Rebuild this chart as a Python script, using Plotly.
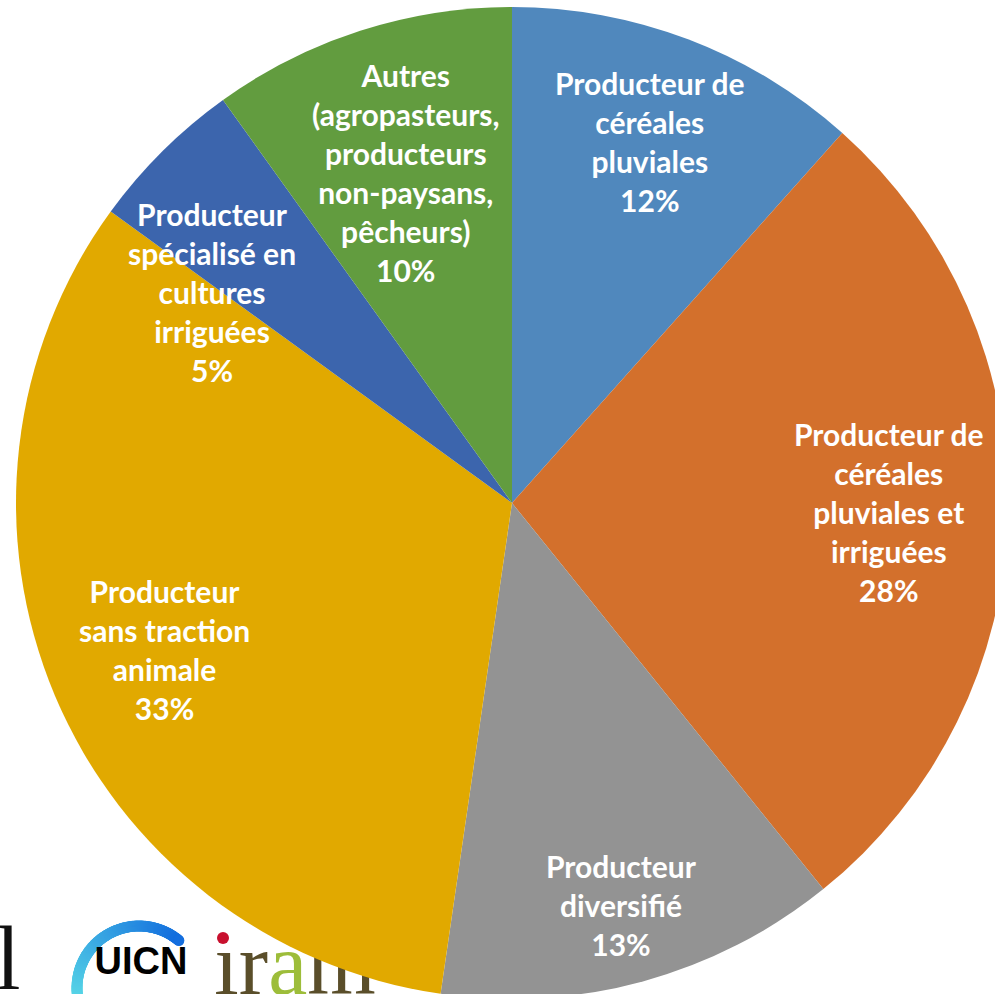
import math
import plotly.graph_objects as go

# ---------------- data ----------------
categories = [
    "Producteur de<br>céréales<br>pluviales",
    "Producteur de<br>céréales<br>pluviales et<br>irriguées",
    "Producteur<br>diversifié",
    "Producteur<br>sans traction<br>animale",
    "Producteur<br>spécialisé en<br>cultures<br>irriguées",
    "Autres<br>(agropasteurs,<br>producteurs<br>non-paysans,<br>pêcheurs)",
]
values = [11.6, 27.6, 13.1, 32.7, 5.1, 9.9]
percent_labels = ["12%", "28%", "13%", "33%", "5%", "10%"]
colors = ["#5088BD", "#D3702C", "#939393", "#E1A900", "#3C65AD", "#629C3F"]

# label placement style (fraction of radius, angular nudge in degrees)
label_r = [0.78, 0.76, 0.84, 0.76, 0.74, 0.70]
label_nudge = [0, 0, 0, 0, -10, 0]

# ---------------- geometry ----------------
W, H = 1012, 1002
CX, CY, R = 512, 503, 496

dom_x = [(CX - R) / W, (CX + R) / W]
dom_y = [1 - (CY + R) / H, 1 - (CY - R) / H]

fig = go.Figure()

# decorative logos drawn beneath the pie (cartesian layer)
fig.add_trace(go.Scatter(
    x=[8], y=[966], mode="text", text=["l"],
    textfont=dict(family="Liberation Serif", size=90, color="#111111"),
    hoverinfo="skip", showlegend=False))

# UICN ring (gradient arc built from dense markers)
n_arc = 160
arc_x, arc_y, arc_c = [], [], []
for i in range(n_arc):
    t = i / (n_arc - 1)
    ang = math.radians(200 - t * 150)
    arc_x.append(139 + 62 * math.cos(ang))
    arc_y.append(988 - 62 * math.sin(ang))
    arc_c.append("rgb({},{},{})".format(int(95 - 75 * t), int(225 - 115 * t), int(232 - 10 * t)))
fig.add_trace(go.Scatter(
    x=arc_x, y=arc_y, mode="markers",
    marker=dict(size=11, color=arc_c, line=dict(width=0)),
    hoverinfo="skip", showlegend=False))

fig.add_trace(go.Scatter(
    x=[141], y=[964], mode="text", text=["<b>UICN</b>"],
    textfont=dict(family="Liberation Sans", size=38, color="#000000"),
    hoverinfo="skip", showlegend=False))
fig.add_trace(go.Scatter(
    x=[295], y=[1016], mode="text", textposition="top center",
    text=["<span style='color:#5A4E2A'>ır</span><span style='color:#9DBD3A'>a</span><span style='color:#5A4E2A'>m</span>"],
    textfont=dict(family="Liberation Serif", size=88, color="#5A4E2A"),
    hoverinfo="skip", showlegend=False))
fig.add_trace(go.Scatter(
    x=[223], y=[938], mode="markers",
    marker=dict(size=12, color="#C8102E", line=dict(width=0)),
    hoverinfo="skip", showlegend=False))

fig.add_trace(go.Pie(
    labels=[c.replace("<br>", " ") for c in categories],
    values=values,
    marker=dict(colors=colors, line=dict(width=0)),
    sort=False, direction="clockwise", rotation=0,
    textinfo="none", hoverinfo="label+percent",
    domain=dict(x=dom_x, y=dom_y),
    showlegend=False,
))

# labels positioned from the data (mid-angle of each slice)
total = sum(values)
cum = 0
for cat, v, pct, rf, nd in zip(categories, values, percent_labels, label_r, label_nudge):
    mid = (cum + v / 2) / total * 360 + nd
    cum += v
    a = math.radians(mid)
    px = CX + rf * R * math.sin(a)
    py = CY - rf * R * math.cos(a)
    fig.add_annotation(
        x=px / W, y=1 - py / H, xref="paper", yref="paper",
        xanchor="center", yanchor="middle",
        text=cat + "<br>" + pct, showarrow=False, align="center",
        font=dict(family="Lato", size=30, color="#FFFFFF", weight="bold"),
    )

fig.update_layout(
    width=W, height=H,
    margin=dict(l=0, r=0, t=0, b=0),
    paper_bgcolor="#FFFFFF", plot_bgcolor="rgba(0,0,0,0)",
    xaxis=dict(range=[0, W], visible=False, domain=[0, 1], fixedrange=True),
    yaxis=dict(range=[H, 0], visible=False, domain=[0, 1], fixedrange=True),
)

fig.write_html(
    "out.html",
    config={"displayModeBar": False},
    post_script="document.body.style.margin='0';document.body.style.overflow='hidden';",
)
